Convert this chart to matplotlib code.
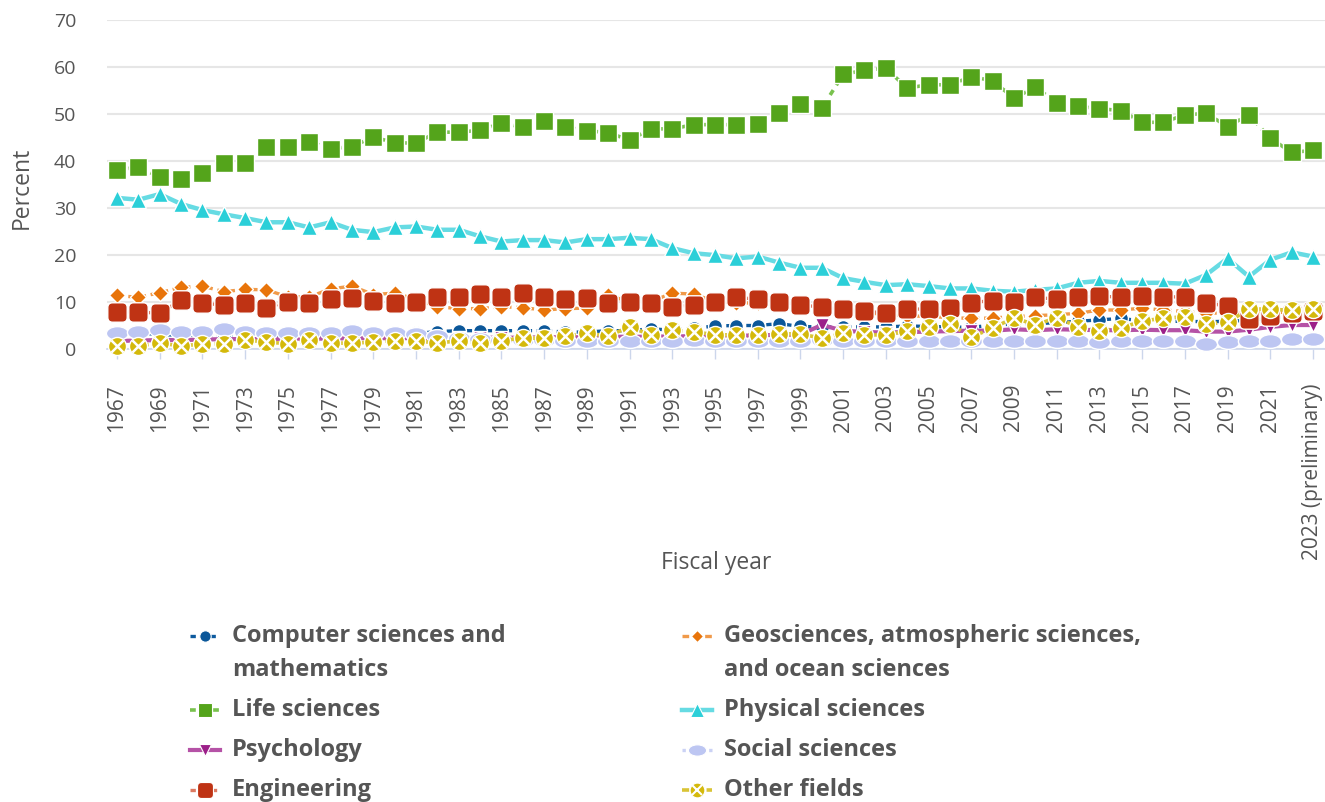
import matplotlib
matplotlib.use('Agg')
import matplotlib.pyplot as plt
from matplotlib.lines import Line2D
from matplotlib.path import Path
from matplotlib.patches import FancyBboxPatch

plt.rcParams['font.family'] = ['Open Sans', 'DejaVu Sans']

# ---------------- data ----------------
years = list(range(1967, 2024))

computer_math = [3.2, 3.3, 3.0, 2.8, 2.8, 2.8, 2.8, 2.6, 2.6, 2.6,
                 2.7, 2.7, 2.8, 2.9, 3.2, 3.6, 3.8, 3.8, 3.8, 3.8,
                 3.8, 3.5, 3.5, 3.8, 3.8, 4.2, 3.9, 4.3, 4.8, 4.9,
                 4.9, 5.3, 4.7, 4.6, 4.6, 4.6, 4.6, 4.8, 4.7, 4.6,
                 4.5, 5.0, 5.2, 5.3, 5.5, 5.8, 6.1, 6.4, 5.9, 5.8,
                 5.8, 5.7, 5.8, 6.0, 6.4, 6.8, 7.0]

geosciences = [11.3, 10.9, 11.9, 13.0, 13.3, 12.1, 12.6, 12.5, 11.0, 11.0,
               12.7, 13.3, 11.5, 11.8, 10.5, 8.9, 8.5, 8.5, 8.9, 8.7,
               8.2, 8.5, 8.6, 11.3, 10.0, 10.0, 11.8, 11.6, 10.0, 9.8,
               9.6, 9.4, 9.0, 8.5, 8.0, 7.6, 7.3, 7.0, 6.8, 6.6,
               6.4, 6.5, 6.8, 7.0, 7.2, 7.5, 8.2, 8.2, 8.6, 8.2,
               7.9, 7.5, 7.6, 7.5, 7.6, 7.8, 8.0]

life_sciences = [38.1, 38.6, 36.6, 36.2, 37.4, 39.6, 39.6, 43.0, 43.0, 44.1,
                 42.6, 43.0, 45.1, 43.8, 43.8, 46.1, 46.1, 46.5, 48.0, 47.2,
                 48.5, 47.2, 46.4, 46.0, 44.4, 46.8, 46.8, 47.7, 47.7, 47.7,
                 47.9, 50.2, 52.0, 51.2, 58.4, 59.3, 59.7, 55.5, 56.2, 56.2,
                 57.9, 57.1, 53.3, 55.7, 52.4, 51.6, 51.1, 50.7, 48.2, 48.2,
                 49.8, 50.1, 47.3, 49.8, 44.8, 41.8, 42.2]

physical_sciences = [32.1, 31.7, 32.9, 30.8, 29.5, 28.6, 27.8, 26.9, 26.9, 25.8,
                     26.9, 25.3, 24.8, 25.8, 26.0, 25.3, 25.3, 23.9, 22.8, 23.1,
                     23.1, 22.6, 23.3, 23.3, 23.6, 23.3, 21.4, 20.3, 19.9, 19.2,
                     19.6, 18.3, 17.2, 17.2, 15.0, 14.2, 13.5, 13.7, 13.3, 12.8,
                     12.8, 12.3, 12.1, 12.5, 12.8, 14.0, 14.4, 14.0, 14.0, 14.0,
                     13.8, 15.7, 19.2, 15.3, 18.9, 20.5, 19.6]

psychology = [1.6, 1.7, 1.8, 1.8, 1.9, 2.0, 2.0, 2.0, 2.1, 2.1,
              2.1, 2.2, 2.2, 2.2, 2.2, 2.2, 2.3, 2.3, 2.3, 2.3,
              2.4, 2.4, 2.4, 2.5, 2.5, 2.5, 2.6, 2.6, 2.7, 2.7,
              2.8, 2.9, 3.0, 5.0, 3.8, 3.5, 3.4, 3.5, 3.6, 3.7,
              3.8, 3.8, 4.1, 3.9, 4.1, 4.0, 3.9, 3.9, 4.0, 3.9,
              3.9, 3.6, 3.6, 4.0, 4.6, 5.0, 5.0]

social_sciences = [3.3, 3.5, 3.9, 3.5, 3.6, 4.1, 3.6, 3.3, 3.4, 3.3,
                   3.4, 3.7, 3.3, 3.2, 3.0, 2.6, 2.2, 2.0, 1.8, 1.8,
                   1.8, 1.7, 1.7, 1.6, 1.6, 1.5, 1.6, 1.9, 1.7, 1.7,
                   1.7, 1.6, 1.7, 1.8, 1.6, 1.6, 1.6, 1.6, 1.6, 1.7,
                   1.7, 1.6, 1.6, 1.6, 1.5, 1.5, 1.4, 1.5, 1.5, 1.5,
                   1.5, 0.9, 1.4, 1.5, 1.6, 2.0, 2.0]

engineering = [7.8, 7.8, 7.5, 10.3, 9.6, 9.3, 9.6, 8.7, 10.0, 9.6,
               10.5, 10.7, 10.2, 9.8, 10.0, 10.9, 10.9, 11.7, 10.9, 11.8,
               10.9, 10.5, 10.8, 9.7, 10.0, 9.6, 8.9, 9.2, 10.0, 10.9,
               10.5, 10.0, 9.3, 8.8, 8.4, 7.9, 7.6, 8.4, 8.4, 8.7,
               9.8, 10.2, 10.0, 10.9, 10.5, 10.9, 11.2, 10.9, 11.2, 11.0,
               11.0, 9.6, 9.1, 6.3, 7.0, 7.6, 7.9]

other_fields = [0.5, 0.5, 1.2, 0.5, 1.0, 1.0, 1.8, 1.4, 1.0, 1.8,
                1.2, 1.1, 1.4, 1.7, 1.7, 1.1, 1.7, 1.2, 1.7, 2.2,
                2.2, 2.7, 3.2, 2.7, 4.6, 2.9, 3.9, 3.6, 2.9, 2.9,
                2.9, 3.1, 3.1, 2.2, 3.2, 2.9, 2.9, 3.7, 4.5, 5.2,
                2.5, 4.3, 6.6, 5.0, 6.6, 4.6, 3.8, 4.3, 5.9, 6.4,
                6.8, 5.2, 5.6, 8.4, 8.4, 8.1, 8.4]

tick_years = list(range(1967, 2024, 2))
tick_labels = [str(y) for y in tick_years[:-1]] + ['2023 (preliminary)']

# ---------------- marker shapes ----------------
_rb = FancyBboxPatch((-0.5, -0.5), 1, 1, boxstyle='round,pad=0,rounding_size=0.25')
rounded_square = _rb.get_path()
_uc = Path.unit_circle()
ellipse = Path(_uc.vertices * [1.0, 0.62], _uc.codes)

GRAY = '#555555'

styles = [
    dict(label='Computer sciences and\nmathematics', data=computer_math,
         color='#0d5a9e', mfc='#0b5799', marker='o', ms=10, lw=2.4, dashes=(1.6, 1.4), z=3),
    dict(label='Geosciences, atmospheric sciences,\nand ocean sciences', data=geosciences,
         color='#f09a4a', mfc='#e8740a', marker='D', ms=7.8, lw=2.4, dashes=(2.0, 1.4), z=4),
    dict(label='Life sciences', data=life_sciences,
         color='#79c24e', mfc='#54a41b', marker='s', ms=12.5, lw=2.6, dashes=(1.6, 1.6), z=5),
    dict(label='Physical sciences', data=physical_sciences,
         color='#66dbe3', mfc='#2bcfd8', marker='^', ms=12, lw=3.2, dashes=None, z=6),
    dict(label='Psychology', data=psychology,
         color='#b552a6', mfc='#9c1f89', marker='v', ms=10, lw=3.0, dashes=None, z=7),
    dict(label='Social sciences', data=social_sciences,
         color='#cbd2f5', mfc='#bdc6f2', marker=ellipse, ms=16, lw=2.4, dashes=(1.0, 1.0), z=8),
    dict(label='Engineering', data=engineering,
         color='#dc7a62', mfc='#bf3314', marker=rounded_square, ms=14, lw=2.4, dashes=(1.6, 1.6), z=9),
    dict(label='Other fields', data=other_fields,
         color='#d9c436', mfc='#d4b90b', marker='o', ms=13, lw=2.6, dashes=(2.0, 1.4), z=10),
]

W, H = 1325, 802
fig = plt.figure(figsize=(W / 100, H / 100), dpi=100)


def fx(px):
    return px / W


def fy(py):
    return 1 - py / H


ax = fig.add_axes([fx(107), fy(348.5), fx(1325) - fx(107), fy(20) - fy(348.5)])

for st in styles:
    kw = dict(color=st['color'], lw=st['lw'], marker=st['marker'], ms=st['ms'],
              mfc=st['mfc'], mec='white', mew=1.0, zorder=st['z'], clip_on=False)
    if st['dashes'] is not None:
        kw['dashes'] = st['dashes']
    ax.plot(years, st['data'], **kw)
    if st['label'] == 'Other fields':
        ax.plot(years, st['data'], ls='none', marker='x', ms=8.5, mec='white', mew=1.8,
                zorder=st['z'] + 0.1, clip_on=False)

x0 = 1967 - 10 / 21.357
ax.set_xlim(x0, x0 + 1218 / 21.357)
ax.set_ylim(0, 70)
ax.set_yticks(range(0, 71, 10))
ax.grid(axis='y', color='#e6e6e6', lw=1.5)
ax.set_axisbelow(True)
for s in ['top', 'right', 'left']:
    ax.spines[s].set_visible(False)
ax.spines['bottom'].set_color('#ccd6eb')
ax.spines['bottom'].set_linewidth(1.2)
ax.spines['bottom'].set_zorder(1)

ax.set_xticks(tick_years)
ax.set_xticklabels(tick_labels, rotation=90, va='top', ha='center')
ax.tick_params(axis='x', length=7.5, width=1, color='#ccd6eb', pad=18,
               labelsize=15, labelcolor=GRAY)
ax.tick_params(axis='y', length=0, pad=22, labelsize=14, labelcolor=GRAY)

fig.text(fx(22), fy(188), 'Percent', rotation=90, ha='center', va='center',
         fontsize=16.5, color=GRAY)
fig.text(fx(716), fy(563), 'Fiscal year', ha='center', va='center',
         fontsize=16.5, color=GRAY)

# ---------------- legend ----------------
col_x = [190, 682]
row_y = [636, 710, 750, 790]
order = [[0, 2, 4, 6], [1, 3, 5, 7]]
for c, idxs in enumerate(order):
    for r, i in enumerate(idxs):
        st = styles[i]
        xl = col_x[c]
        yl = row_y[r]
        kw = dict(color=st['color'], lw=st['lw'], transform=fig.transFigure)
        if st['dashes'] is not None:
            kw['dashes'] = st['dashes']
        fig.add_artist(Line2D([fx(xl), fx(xl + 30)], [fy(yl), fy(yl)], **kw))
        fig.add_artist(Line2D([fx(xl + 15)], [fy(yl)], ls='none', marker=st['marker'],
                              ms=st['ms'] * 0.82, mfc=st['mfc'], mec='white', mew=0.8,
                              transform=fig.transFigure))
        if st['label'] == 'Other fields':
            fig.add_artist(Line2D([fx(xl + 15)], [fy(yl)], ls='none', marker='x',
                                  ms=7, mec='white', mew=1.5, transform=fig.transFigure))
        if '\n' in st['label']:
            fig.text(fx(xl + 42), fy(yl + 17), st['label'], ha='left', va='center',
                     fontsize=17, fontweight='bold', color=GRAY, linespacing=1.52)
        else:
            fig.text(fx(xl + 42), fy(yl), st['label'], ha='left', va='center',
                     fontsize=17, fontweight='bold', color=GRAY)

fig.savefig('out.png', dpi=100)
